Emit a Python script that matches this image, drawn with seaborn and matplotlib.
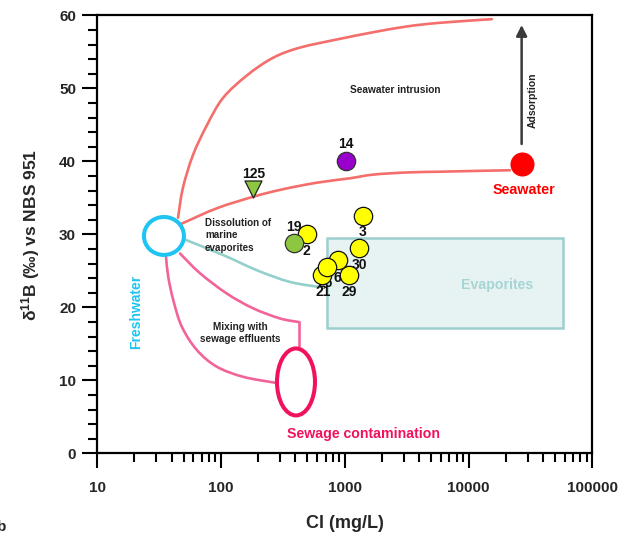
import numpy as np
import pandas as pd
import matplotlib
matplotlib.use("Agg")
import matplotlib.pyplot as plt
import seaborn as sns
from matplotlib.patches import Ellipse, Rectangle, PathPatch
from matplotlib.path import Path
from matplotlib.transforms import ScaledTranslation
from matplotlib.ticker import FixedLocator, LogLocator, MultipleLocator, NullFormatter

# ---------------- data ----------------
sample_ids = ["14", "125", "19", "2", "3", "30", "29", "6", "21", "26"]
sample_cl = [1023, 183, 493, 389, 1395, 1309, 1087, 886, 651, 714]
sample_d11b = [40.1, 36.3, 30.0, 28.8, 32.5, 28.2, 24.5, 26.5, 24.4, 25.6]
sample_group = ["purple", "triangle", "yellow", "green", "yellow", "yellow",
                "yellow", "yellow", "yellow", "yellow"]

seawater_cl = [26800]
seawater_d11b = [39.7]
freshwater_cl = 34.7
freshwater_d11b = 29.8
sewage_cl = 404
sewage_d11b = 9.8

# mixing curves (traced)
upper_sw_cl = [45.1, 49.4, 59.6, 77.3, 104.0, 162.5, 263.3, 434.9, 914, 1690, 3177, 5867, 15420]
upper_sw_d11b = [32.3, 36.4, 40.9, 45.0, 48.7, 51.8, 54.2, 55.6, 56.8, 57.7, 58.5, 59.0, 59.5]
lower_sw_cl = [48.5, 93.0, 185, 317, 597, 1102, 1690, 3177, 5867, 10830, 21540]
lower_sw_d11b = [31.5, 33.6, 35.2, 36.2, 37.1, 37.7, 38.2, 38.5, 38.6, 38.7, 38.8]
evap_cl = [51.3, 104.0, 195.5, 361.3, 631]
evap_d11b = [29.3, 27.2, 25.1, 23.5, 22.8]
sew_upper_cl = [46.8, 67.8, 112, 181.6, 300, 429.4]
sew_upper_d11b = [27.4, 24.7, 21.9, 19.9, 18.5, 18.0]
sew_link_cl = [429.4, 429.4]
sew_link_d11b = [18.0, 14.7]
sew_lower_cl = [36.1, 37.6, 41.3, 48.3, 63.8, 92.5, 151.7, 273.4]
sew_lower_d11b = [26.9, 24.2, 21.0, 17.4, 14.2, 11.9, 10.5, 9.7]

evaporite_box_cl = [714, 57410]
evaporite_box_d11b = [17.15, 29.5]

adsorption_d11b = [42.4, 58.7]

xticks = [10, 100, 1000, 10000, 100000]
xtick_labels = ["10", "100", "1000", "10000", "100000"]
yticks = [0, 10, 20, 30, 40, 50, 60]

# ---------------- style ----------------
sns.set_style("ticks")
plt.rcParams["font.family"] = ["Liberation Sans", "DejaVu Sans"]
plt.rcParams["mathtext.fontset"] = "custom"
plt.rcParams["mathtext.rm"] = "Liberation Sans"
plt.rcParams["mathtext.bf"] = "Liberation Sans:bold"

RED_LINE = "#F46E6C"
PINK_LINE = "#F2639A"
TEAL = "#93CFCB"
CYAN = "#1EC4F2"
CRIMSON = "#F0125C"

fig = plt.figure(figsize=(6.34, 5.40), dpi=100)
ax = fig.add_axes([0.153, 0.1602, 0.7815, 0.8111])
ax.set_xscale("log")

# evaporite box
ax.add_patch(Rectangle((evaporite_box_cl[0], evaporite_box_d11b[0]),
                       evaporite_box_cl[1] - evaporite_box_cl[0],
                       evaporite_box_d11b[1] - evaporite_box_d11b[0],
                       facecolor="#E7F3F3", edgecolor="#9CD0CE", lw=1.8, zorder=1))


def smooth_curve(xs, ys, color, lw=1.9):
    """Draw a smooth (Catmull-Rom -> cubic Bezier) line through traced points,
    working in log10(x) so the curve is smooth on the log axis."""
    P = np.column_stack([np.log10(xs), ys])
    n = len(P)
    ext = np.vstack([P[0], P, P[-1]])
    verts = [P[0]]
    codes = [Path.MOVETO]
    for i in range(n - 1):
        p0, p1, p2, p3 = ext[i], ext[i + 1], ext[i + 2], ext[i + 3]
        c1 = p1 + (p2 - p0) / 6.0
        c2 = p2 - (p3 - p1) / 6.0
        verts += [c1, c2, p2]
        codes += [Path.CURVE4] * 3
    verts = np.array(verts)
    verts[:, 0] = 10 ** verts[:, 0]
    ax.add_patch(PathPatch(Path(verts, codes), fill=False, edgecolor=color,
                           lw=lw, capstyle="round", zorder=2))


smooth_curve(upper_sw_cl, upper_sw_d11b, RED_LINE)
smooth_curve(lower_sw_cl, lower_sw_d11b, RED_LINE)
smooth_curve(evap_cl, evap_d11b, TEAL)
smooth_curve(sew_upper_cl, sew_upper_d11b, PINK_LINE)
smooth_curve(sew_lower_cl, sew_lower_d11b, PINK_LINE)
sns.lineplot(x=sew_link_cl, y=sew_link_d11b, sort=False, estimator=None,
             color=PINK_LINE, lw=1.9, ax=ax, zorder=2)


def px_ellipse(xc, yc, w_in, h_in, color, lw):
    tr = fig.dpi_scale_trans + ScaledTranslation(xc, yc, ax.transData)
    e = Ellipse((0, 0), w_in, h_in, transform=tr, fill=True, facecolor="white",
                edgecolor=color, lw=lw, zorder=3)
    ax.add_artist(e)


px_ellipse(freshwater_cl, freshwater_d11b, 0.40, 0.38, CYAN, 2.9)
px_ellipse(sewage_cl, sewage_d11b, 0.38, 0.67, CRIMSON, 2.9)

# samples
df = pd.DataFrame({"id": sample_ids, "cl": sample_cl, "d11b": sample_d11b,
                   "group": sample_group})
styles = {
    "yellow": dict(color="#FFFF00", marker="o", s=175, edgecolor="#111111"),
    "green": dict(color="#8DC63F", marker="o", s=175, edgecolor="#333333"),
    "purple": dict(color="#9900CC", marker="o", s=175, edgecolor="#333333"),
    "triangle": dict(color="#8DC63F", marker="v", s=150, edgecolor="#222222"),
}
for g, st in styles.items():
    sub = df[df["group"] == g]
    sns.scatterplot(data=sub, x="cl", y="d11b", ax=ax, linewidth=0.9,
                    zorder=5, legend=False, **st)

sns.scatterplot(x=seawater_cl, y=seawater_d11b, color="#FF0000", s=300,
                linewidth=0, ax=ax, zorder=5, legend=False)

label_offsets = {"14": (0, 12.2), "125": (0, 10.8), "19": (-9.1, 5.3),
                 "2": (8.6, -5.5), "3": (0, -11.5), "30": (0, -12.7),
                 "29": (0, -12.2), "6": (-0.7, -13), "26": (-1.2, -11.7),
                 "21": (1.3, -12.1)}
for sid, x, y in zip(sample_ids, sample_cl, sample_d11b):
    ax.annotate(sid, (x, y), xytext=label_offsets[sid], textcoords="offset points",
                ha="center", va="center", fontsize=10, fontweight="bold",
                color="#111111", zorder=4)

# adsorption arrow
ax.annotate("", xy=(seawater_cl[0], adsorption_d11b[1]),
            xytext=(seawater_cl[0], adsorption_d11b[0]),
            arrowprops=dict(arrowstyle="-|>", color="#3a3a3a", lw=1.8,
                            mutation_scale=16, shrinkA=0, shrinkB=0), zorder=4)

# region labels
ax.text(2541, 49.8, "Seawater intrusion", fontsize=7.3, fontweight="bold",
        color="#222222", ha="center", va="center")
ax.text(32730, 48.4, "Adsorption", fontsize=7.5, fontweight="bold",
        color="#222222", ha="center", va="center", rotation=90)
ax.text(27930, 36.1, "Seawater", fontsize=10.3, fontweight="bold",
        color="#FF0000", ha="center", va="center")
ax.text(1429, 2.7, "Sewage contamination", fontsize=10.2, fontweight="bold",
        color=CRIMSON, ha="center", va="center")
ax.text(20.6, 19.4, "Freshwater", fontsize=10, fontweight="bold",
        color=CYAN, ha="center", va="center", rotation=90)
ax.text(17070, 23.1, "Evaporites", fontsize=10.2, fontweight="bold",
        color="#A6D5D3", ha="center", va="center")
ax.text(74.4, 29.9, "Dissolution of\nmarine\nevaporites", fontsize=7.1,
        fontweight="bold", color="#222222", ha="left", va="center",
        linespacing=1.3)
ax.text(142.6, 16.5, "Mixing with\nsewage effluents", fontsize=7.2,
        fontweight="bold", color="#222222", ha="center", va="center",
        linespacing=1.3)

# axes
ax.set_xlim(10, 100000)
ax.set_ylim(0, 60)
ax.xaxis.set_major_locator(FixedLocator(xticks))
ax.set_xticklabels(xtick_labels)
ax.xaxis.set_minor_locator(LogLocator(base=10, subs=np.arange(2, 10), numticks=30))
ax.xaxis.set_minor_formatter(NullFormatter())
ax.set_yticks(yticks)
ax.yaxis.set_minor_locator(MultipleLocator(2))
ax.tick_params(which="major", length=11, width=1.5, direction="out",
               color="black", labelsize=11)
ax.tick_params(axis="x", which="major", pad=9)
ax.tick_params(axis="y", which="major", pad=4)
ax.tick_params(which="minor", length=6.5, width=1.5, direction="out", color="black")
for lab in ax.get_xticklabels() + ax.get_yticklabels():
    lab.set_fontweight("bold")
for sp in ax.spines.values():
    sp.set_visible(True)
    sp.set_linewidth(1.6)
    sp.set_color("black")

ax.set_xlabel("Cl (mg/L)", fontsize=13, fontweight="bold")
ax.set_ylabel(r"$\mathregular{\delta^{11}}$B (‰) vs NBS 951", fontsize=12.5,
              fontweight="bold")
ax.xaxis.set_label_coords(0.5, -0.14)
ax.yaxis.set_label_coords(-0.112, 0.5)

fig.text(6 / 634, 1 - 527 / 540, "b", ha="right", va="center", fontsize=11,
         fontweight="bold")

fig.savefig("out.png", dpi=100)
